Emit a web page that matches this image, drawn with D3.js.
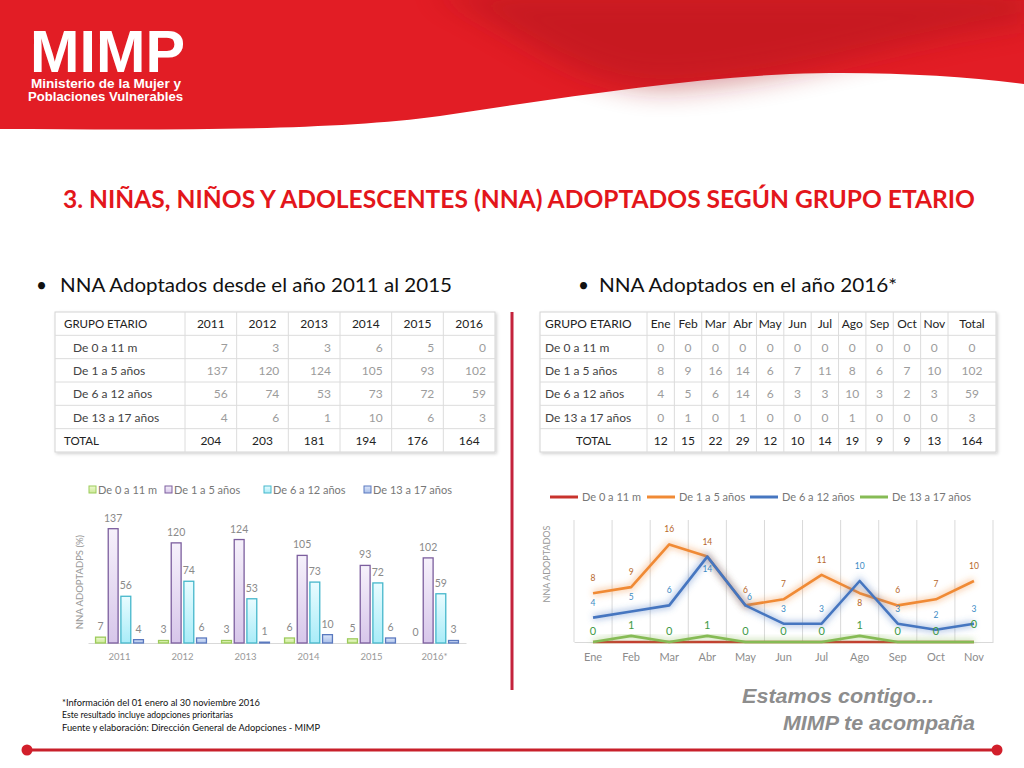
<!DOCTYPE html>
<html>
<head>
<meta charset="utf-8">
<script src="https://cdn.jsdelivr.net/npm/d3@7"></script>
<style>
  body { margin: 0; background: #fff; }
  svg { display: block; font-family: Lato, "Open Sans", sans-serif; }
  .logo { font-family: "Liberation Sans Narrow", "Liberation Sans", Arial, sans-serif; font-weight: 700; }
  .tag { font-family: "Liberation Sans", Arial, sans-serif; font-weight: 700; font-style: italic; }
</style>
</head>
<body>
<div id="slide"></div>
<script>
// ---- data ----
const years = ["2011", "2012", "2013", "2014", "2015", "2016"];
const yearLabels = ["2011", "2012", "2013", "2014", "2015", "2016*"];
const groups = ["De 0 a 11 m", "De 1 a 5 años", "De 6 a 12 años", "De 13 a 17 años"];
const byYear0_11 = [7, 3, 3, 6, 5, 0];
const byYear1_5 = [137, 120, 124, 105, 93, 102];
const byYear6_12 = [56, 74, 53, 73, 72, 59];
const byYear13_17 = [4, 6, 1, 10, 6, 3];
const totalsByYear = [204, 203, 181, 194, 176, 164];

const months = ["Ene", "Feb", "Mar", "Abr", "May", "Jun", "Jul", "Ago", "Sep", "Oct", "Nov"];
const month0_11 = [0, 0, 0, 0, 0, 0, 0, 0, 0, 0, 0];
const month1_5 = [8, 9, 16, 14, 6, 7, 11, 8, 6, 7, 10];
const month6_12 = [4, 5, 6, 14, 6, 3, 3, 10, 3, 2, 3];
const month13_17 = [0, 1, 0, 1, 0, 0, 0, 1, 0, 0, 0];
const monthTotals = [12, 15, 22, 29, 12, 10, 14, 19, 9, 9, 13];
const groupTotals2016 = [0, 102, 59, 3];
const grandTotal2016 = 164;

const title = "3. NIÑAS, NIÑOS Y ADOLESCENTES (NNA) ADOPTADOS SEGÚN GRUPO ETARIO";
const footNotes = [
  "*Información del 01 enero al 30 noviembre 2016",
  "Este resultado incluye adopciones prioritarias",
  "Fuente y elaboración: Dirección General de Adopciones - MIMP"
];

const W = 1024, H = 768;
const svg = d3.select("#slide").append("svg")
    .attr("width", W)
    .attr("height", H);
const defs = svg.append("defs");

// squeeze a text to a measured width
function fit(sel, w) {
  return sel.attr("textLength", w).attr("lengthAdjust", "spacingAndGlyphs");
}

//***********************************************
// header band + logo
defs.append("filter").attr("id", "soft")
    .attr("x", "-20%").attr("y", "-50%").attr("width", "140%").attr("height", "200%")
  .append("feGaussianBlur").attr("stdDeviation", 14);

svg.append("path")
    .attr("d", "M0,0H1024V84C960,76 880,71 790,74C680,79 560,98 440,116C330,131 170,130 0,129Z")
    .attr("fill", "#e21d25");
svg.append("path")
    .attr("d", "M430,-10C520,30 580,95 680,88C800,80 900,40 1030,22V-10Z")
    .attr("fill", "#a8121b")
    .attr("opacity", 0.45)
    .attr("filter", "url(#soft)");

fit(svg.append("text").attr("class", "logo")
    .attr("x", 30).attr("y", 72)
    .attr("font-size", 60)
    .attr("fill", "#fff")
    .text("MIMP"), 155);
fit(svg.append("text").attr("class", "logo")
    .attr("x", 31).attr("y", 88)
    .attr("font-size", 12.5)
    .attr("fill", "#fff")
    .text("Ministerio de la Mujer y"), 150);
fit(svg.append("text").attr("class", "logo")
    .attr("x", 28).attr("y", 101)
    .attr("font-size", 12.5)
    .attr("fill", "#fff")
    .text("Poblaciones Vulnerables"), 155);

//***********************************************
// title and bullets
fit(svg.append("text")
    .attr("x", 63).attr("y", 208)
    .attr("font-size", 24).attr("font-weight", 700)
    .attr("fill", "#e3161b")
    .text(title), 912);

svg.append("text").attr("x", 36).attr("y", 292).attr("font-size", 19).attr("fill", "#111").text("•");
fit(svg.append("text").attr("x", 60).attr("y", 292).attr("font-size", 19).attr("fill", "#111")
    .text("NNA Adoptados desde el año 2011 al 2015"), 392);
svg.append("text").attr("x", 578).attr("y", 292).attr("font-size", 19).attr("fill", "#111").text("•");
fit(svg.append("text").attr("x", 599).attr("y", 292).attr("font-size", 19).attr("fill", "#111")
    .text("NNA Adoptados en el año 2016*"), 298);

//***********************************************
// tables
defs.append("filter").attr("id", "shadow")
    .attr("x", "-5%").attr("y", "-5%").attr("width", "110%").attr("height", "115%")
  .append("feDropShadow")
    .attr("dx", 1.5).attr("dy", 1.5).attr("stdDeviation", 1.5)
    .attr("flood-color", "#000").attr("flood-opacity", 0.18);

const gridColor = "#dcdcdc";
const darkText = "#222";
const valueText = "#9c9c9c";

// left table: 2011 - 2016
const groupValues = [byYear0_11, byYear1_5, byYear6_12, byYear13_17];
const rowY = d3.scaleBand().domain(d3.range(6)).range([312, 452]);
const colL = d3.scaleBand().domain(years).range([185, 495]);
const tL = svg.append("g").attr("id", "table-left");

tL.append("rect")
    .attr("x", 55).attr("y", 312).attr("width", 440).attr("height", 140)
    .attr("fill", "#fff").attr("stroke", "#d4d4d4")
    .attr("filter", "url(#shadow)");
tL.selectAll("line.h").data(d3.range(1, 6)).join("line").attr("class", "h")
    .attr("x1", 55).attr("x2", 495)
    .attr("y1", i => rowY(i)).attr("y2", i => rowY(i))
    .attr("stroke", gridColor);
tL.selectAll("line.v").data(years).join("line").attr("class", "v")
    .attr("x1", d => colL(d)).attr("x2", d => colL(d))
    .attr("y1", 312).attr("y2", 452)
    .attr("stroke", gridColor);

const midY = i => rowY(i) + rowY.bandwidth() / 2 + 4.5;

tL.append("text").attr("x", 64).attr("y", midY(0))
    .attr("font-size", 11.5).attr("fill", darkText).text("GRUPO ETARIO");
tL.selectAll("text.yr").data(years).join("text").attr("class", "yr")
    .attr("x", d => colL(d) + colL.bandwidth() / 2).attr("y", midY(0))
    .attr("text-anchor", "middle").attr("font-size", 12).attr("fill", darkText)
    .text(d => d);
tL.selectAll("text.grp").data(groups).join("text").attr("class", "grp")
    .attr("x", 73).attr("y", (d, i) => midY(i + 1))
    .attr("font-size", 12).attr("fill", "#444")
    .text(d => d);
groupValues.forEach((vals, gi) => {
  tL.selectAll("text.val" + gi).data(vals).join("text").attr("class", "val" + gi)
      .attr("x", (d, i) => colL(years[i]) + colL.bandwidth() - 9)
      .attr("y", midY(gi + 1))
      .attr("text-anchor", "end").attr("font-size", 12).attr("fill", valueText)
      .text(d => d);
});
tL.append("text").attr("x", 64).attr("y", midY(5))
    .attr("font-size", 11.5).attr("fill", darkText).text("TOTAL");
tL.selectAll("text.tot").data(totalsByYear).join("text").attr("class", "tot")
    .attr("x", (d, i) => colL(years[i]) + colL.bandwidth() / 2).attr("y", midY(5))
    .attr("text-anchor", "middle").attr("font-size", 12).attr("fill", darkText)
    .text(d => d);

// right table: months 2016
const monthValues = [month0_11, month1_5, month6_12, month13_17];
const colR = d3.scaleBand().domain(months).range([647, 948]);
const totX0 = 948, totX1 = 996;
const tR = svg.append("g").attr("id", "table-right");

tR.append("rect")
    .attr("x", 540).attr("y", 312).attr("width", 456).attr("height", 140)
    .attr("fill", "#fff").attr("stroke", "#d4d4d4")
    .attr("filter", "url(#shadow)");
tR.selectAll("line.h").data(d3.range(1, 6)).join("line").attr("class", "h")
    .attr("x1", 540).attr("x2", 996)
    .attr("y1", i => rowY(i)).attr("y2", i => rowY(i))
    .attr("stroke", gridColor);
tR.selectAll("line.v").data(months.map(m => colR(m)).concat([totX0])).join("line").attr("class", "v")
    .attr("x1", d => d).attr("x2", d => d)
    .attr("y1", 312).attr("y2", 452)
    .attr("stroke", gridColor);

tR.append("text").attr("x", 545).attr("y", midY(0))
    .attr("font-size", 12).attr("fill", darkText).text("GRUPO ETARIO");
tR.selectAll("text.mo").data(months).join("text").attr("class", "mo")
    .attr("x", d => colR(d) + colR.bandwidth() / 2).attr("y", midY(0))
    .attr("text-anchor", "middle").attr("font-size", 12).attr("fill", darkText)
    .text(d => d);
tR.append("text").attr("x", (totX0 + totX1) / 2).attr("y", midY(0))
    .attr("text-anchor", "middle").attr("font-size", 12).attr("fill", darkText).text("Total");
tR.selectAll("text.grp").data(groups).join("text").attr("class", "grp")
    .attr("x", 545).attr("y", (d, i) => midY(i + 1))
    .attr("font-size", 12).attr("fill", "#444")
    .text(d => d);
monthValues.forEach((vals, gi) => {
  tR.selectAll("text.val" + gi).data(vals).join("text").attr("class", "val" + gi)
      .attr("x", (d, i) => colR(months[i]) + colR.bandwidth() / 2)
      .attr("y", midY(gi + 1))
      .attr("text-anchor", "middle").attr("font-size", 12).attr("fill", valueText)
      .text(d => d);
});
tR.selectAll("text.gt").data(groupTotals2016).join("text").attr("class", "gt")
    .attr("x", (totX0 + totX1) / 2).attr("y", (d, i) => midY(i + 1))
    .attr("text-anchor", "middle").attr("font-size", 12).attr("fill", valueText)
    .text(d => d);
tR.append("text").attr("x", (540 + 647) / 2).attr("y", midY(5))
    .attr("text-anchor", "middle").attr("font-size", 11.5).attr("fill", darkText).text("TOTAL");
tR.selectAll("text.tot").data(monthTotals).join("text").attr("class", "tot")
    .attr("x", (d, i) => colR(months[i]) + colR.bandwidth() / 2).attr("y", midY(5))
    .attr("text-anchor", "middle").attr("font-size", 12).attr("fill", darkText)
    .text(d => d);
tR.append("text").attr("x", (totX0 + totX1) / 2).attr("y", midY(5))
    .attr("text-anchor", "middle").attr("font-size", 12).attr("fill", darkText).text(grandTotal2016);

//***********************************************
// divider
svg.append("line")
    .attr("x1", 512).attr("x2", 512).attr("y1", 312).attr("y2", 690)
    .attr("stroke", "#c4233c").attr("stroke-width", 3);

//***********************************************
// bar chart 2011 - 2016
const barStyles = [
  {top: "#eef9cf", bottom: "#cbe997", stroke: "#9ccb5a"},
  {top: "#f6f1fb", bottom: "#d7c6ea", stroke: "#7c5e9e"},
  {top: "#e9fcff", bottom: "#a9ecf8", stroke: "#45b7cb"},
  {top: "#dde7fa", bottom: "#a9bfe9", stroke: "#5a79bf"}
];
barStyles.forEach((s, i) => {
  const lg = defs.append("linearGradient").attr("id", "barGrad" + i)
      .attr("x1", 0).attr("y1", 0).attr("x2", 0).attr("y2", 1);
  lg.append("stop").attr("offset", "0%").attr("stop-color", s.top);
  lg.append("stop").attr("offset", "100%").attr("stop-color", s.bottom);
});

const xB = d3.scaleBand().domain(years).range([88, 466]).paddingInner(0.24).paddingOuter(0.12);
const xSub = d3.scaleBand().domain(d3.range(4)).range([0, xB.bandwidth()]).paddingInner(0.22);
const yB = d3.scaleLinear().domain([0, 160]).range([643, 509.5]);
const gB = svg.append("g").attr("id", "bar-chart");

// legend
const legB = gB.selectAll("g.leg").data(groups).join("g").attr("class", "leg")
    .attr("transform", (d, i) => "translate(" + [89, 165, 264, 364][i] + ",490)");
legB.append("rect")
    .attr("x", 0).attr("y", -4).attr("width", 7).attr("height", 7)
    .attr("fill", (d, i) => "url(#barGrad" + i + ")")
    .attr("stroke", (d, i) => barStyles[i].stroke);
legB.append("text")
    .attr("x", 9).attr("y", 4)
    .attr("font-size", 11).attr("fill", "#777")
    .text(d => d);

// y title
gB.append("text")
    .attr("transform", "translate(83,582) rotate(-90)")
    .attr("text-anchor", "middle")
    .attr("font-size", 9.5).attr("fill", "#999")
    .text("NNA ADOPTADPS (%)");

// x axis
const xAxisB = d3.axisBottom(xB).tickSize(0).tickPadding(10).tickFormat((d, i) => yearLabels[i]);
const axB = gB.append("g")
    .attr("transform", "translate(0,643)")
    .call(xAxisB)
    .attr("font-family", null);
axB.select(".domain").attr("stroke", "#d9d9d9");
axB.selectAll("text").attr("font-size", 9.5).attr("fill", "#999");

groupValues.forEach((vals, gi) => {
  const pts = vals.map((v, i) => ({year: years[i], v: v}));
  gB.selectAll("rect.bar" + gi).data(pts.filter(p => p.v > 0)).join("rect").attr("class", "bar" + gi)
      .attr("x", d => xB(d.year) + xSub(gi))
      .attr("y", d => yB(d.v))
      .attr("width", xSub.bandwidth())
      .attr("height", d => yB(0) - yB(d.v))
      .attr("fill", "url(#barGrad" + gi + ")")
      .attr("stroke", barStyles[gi].stroke)
      .attr("stroke-width", 1.3);
  gB.selectAll("text.lab" + gi).data(pts).join("text").attr("class", "lab" + gi)
      .attr("x", d => xB(d.year) + xSub(gi) + xSub.bandwidth() / 2)
      .attr("y", d => yB(d.v) - 7)
      .attr("text-anchor", "middle")
      .attr("font-size", 10.5).attr("fill", "#8a8a8a")
      .text(d => d.v);
});

//***********************************************
// line chart 2016
defs.append("filter").attr("id", "glow")
    .attr("x", "-10%").attr("y", "-30%").attr("width", "120%").attr("height", "160%")
  .append("feGaussianBlur").attr("stdDeviation", 3);

const xM = d3.scaleBand().domain(months).range([574, 993]);
const yM = d3.scaleLinear().domain([0, 20]).range([642, 520]);
const cx = m => xM(m) + xM.bandwidth() / 2;
const gL = svg.append("g").attr("id", "line-chart");

const series = [
  {name: groups[0], values: month0_11, color: "#c8332d"},
  {name: groups[1], values: month1_5, color: "#f08a35", label: "#b6672a", size: 8.5},
  {name: groups[2], values: month6_12, color: "#4676c0", label: "#3b8ac4", size: 8.5},
  {name: groups[3], values: month13_17, color: "#86bb55", label: "#3f9a47", size: 11}
];

// gridlines at band edges
gL.selectAll("line.grid").data(months.map(m => xM(m)).concat([xM.range()[1]])).join("line").attr("class", "grid")
    .attr("x1", d => d).attr("x2", d => d)
    .attr("y1", yM(20)).attr("y2", yM(0))
    .attr("stroke", "#d9d9d9");

const xAxisM = d3.axisBottom(xM).tickSize(0).tickPadding(11);
const axM = gL.append("g")
    .attr("transform", "translate(0," + yM(0) + ")")
    .call(xAxisM)
    .attr("font-family", null);
axM.select(".domain").attr("stroke", "#d9d9d9");
axM.selectAll("text").attr("font-size", 11).attr("fill", "#8c8c8c");

gL.append("text")
    .attr("transform", "translate(550,564) rotate(-90)")
    .attr("text-anchor", "middle")
    .attr("font-size", 9).attr("fill", "#999")
    .text("NNA ADOPTADOS");

// legend
const legM = gL.selectAll("g.leg").data(series).join("g").attr("class", "leg")
    .attr("transform", (d, i) => "translate(" + [550, 647, 750, 860][i] + ",497)");
legM.append("line")
    .attr("x1", 0).attr("x2", 28).attr("y1", 0).attr("y2", 0)
    .attr("stroke", d => d.color).attr("stroke-width", 3);
legM.append("text")
    .attr("x", 32).attr("y", 4)
    .attr("font-size", 11).attr("fill", "#777")
    .text(d => d.name);

const line = d3.line()
    .x((v, i) => cx(months[i]))
    .y(v => yM(v));

series.forEach(s => {
  gL.append("path")
      .attr("d", line(s.values))
      .attr("fill", "none")
      .attr("stroke", s.color).attr("stroke-width", 6)
      .attr("stroke-opacity", s.name === groups[0] ? 0 : 0.4)
      .attr("filter", "url(#glow)");
  gL.append("path")
      .attr("d", line(s.values))
      .attr("fill", "none")
      .attr("stroke", s.color).attr("stroke-width", 2.6)
      .attr("stroke-linejoin", "round");
});

// data labels
const labelDy = (si, i) => {
  const o = month1_5[i], b = month6_12[i];
  if (si === 1) return b > o ? 13 : -12;
  if (si === 2) {
    if (b >= o && b > 10) return 15;
    if (b === o) return -5;
    return -12;
  }
  return i === months.length - 1 ? -14 : -7;
};
series.forEach((s, si) => {
  if (!s.label) return;
  gL.selectAll("text.ml" + si).data(s.values).join("text").attr("class", "ml" + si)
      .attr("x", (v, i) => cx(months[i]) + (si === 2 && month6_12[i] === month1_5[i] && v < 10 ? 4 : 0))
      .attr("y", (v, i) => yM(v) + labelDy(si, i))
      .attr("text-anchor", "middle")
      .attr("font-size", s.size).attr("fill", s.label)
      .text(v => v);
});

//***********************************************
// footer
svg.selectAll("text.note").data(footNotes).join("text").attr("class", "note")
    .attr("x", 62).attr("y", (d, i) => 706 + i * 12.3)
    .attr("font-size", 9).attr("fill", "#111")
    .each(function (d, i) {
      fit(d3.select(this), [198, 171, 258][i]);
    })
    .text(d => d);

fit(svg.append("text").attr("class", "tag")
    .attr("x", 742).attr("y", 703)
    .attr("font-size", 20)
    .attr("fill", "#8d8d8d")
    .text("Estamos contigo..."), 192);
fit(svg.append("text").attr("class", "tag")
    .attr("x", 783).attr("y", 730)
    .attr("font-size", 20)
    .attr("fill", "#8d8d8d")
    .text("MIMP te acompaña"), 192);

svg.append("line")
    .attr("x1", 27).attr("x2", 997).attr("y1", 750).attr("y2", 750)
    .attr("stroke", "#c8202b").attr("stroke-width", 3);
svg.selectAll("circle.end").data([27, 997]).join("circle").attr("class", "end")
    .attr("cx", d => d).attr("cy", 750).attr("r", 5.5)
    .attr("fill", "#d21f2b");
</script>
</body>
</html>
